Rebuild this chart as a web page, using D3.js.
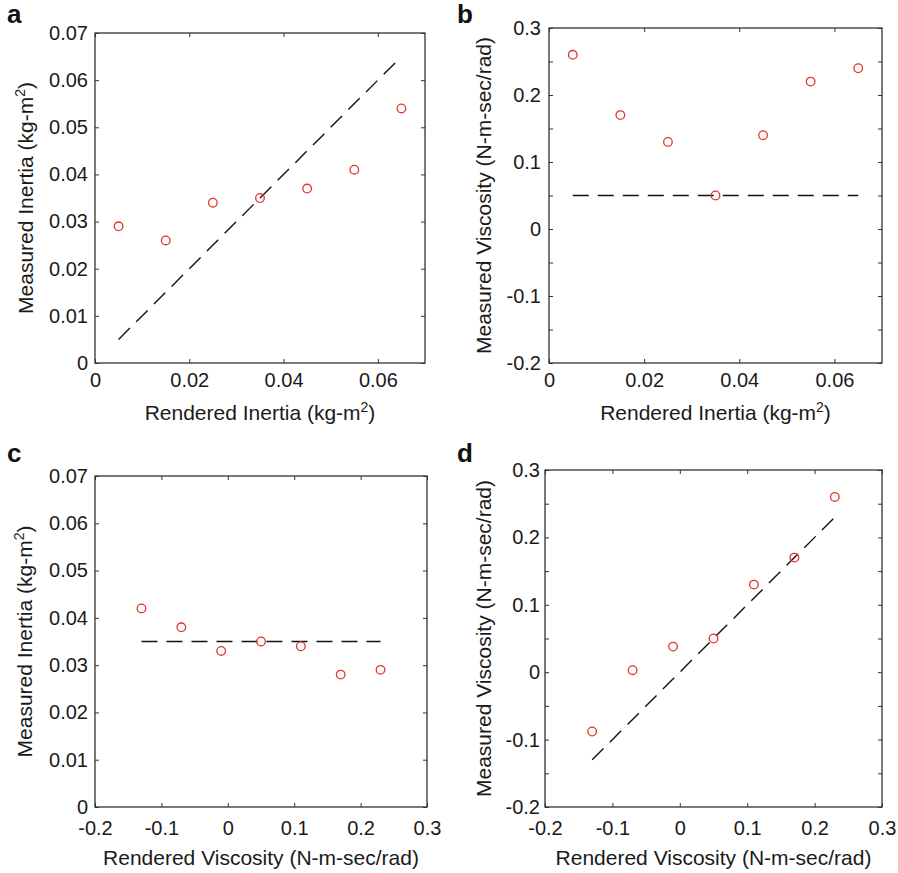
<!DOCTYPE html>
<html>
<head>
<meta charset="utf-8">
<script src="https://cdn.jsdelivr.net/npm/d3@7"></script>
<style>
  html, body { margin: 0; padding: 0; background: #fff; }
  svg { display: block; font-family: "Liberation Sans", Arial, Helvetica, sans-serif; }
</style>
</head>
<body>
<svg id="chart" width="898" height="873"></svg>
<script>
// ---- data ----
const panelLetters = ["a", "b", "c", "d"];
const renderedInertia = [0.005, 0.015, 0.025, 0.035, 0.045, 0.055, 0.065];
const renderedViscosity = [-0.13, -0.07, -0.01, 0.05, 0.11, 0.17, 0.23];
const measuredInertiaA = [0.029, 0.026, 0.034, 0.035, 0.037, 0.041, 0.054];
const measuredViscosityB = [0.26, 0.17, 0.13, 0.05, 0.14, 0.22, 0.24];
const measuredInertiaC = [0.042, 0.038, 0.033, 0.035, 0.034, 0.028, 0.029];
const measuredViscosityD = [-0.088, 0.003, 0.038, 0.05, 0.13, 0.17, 0.26];
const idealA = [[0.005, 0.005], [0.065, 0.065]];
const idealB = [[0.005, 0.05], [0.065, 0.05]];
const idealC = [[-0.13, 0.035], [0.23, 0.035]];
const idealD = [[-0.13, -0.13], [0.23, 0.23]];
const inertiaDomain = [0, 0.07];
const viscosityDomain = [-0.2, 0.3];
const inertiaXTicks = [0, 0.02, 0.04, 0.06];
const inertiaYTicks = [0, 0.01, 0.02, 0.03, 0.04, 0.05, 0.06, 0.07];
const viscosityXTicks = [-0.2, -0.1, 0, 0.1, 0.2, 0.3];
const viscosityYTicks = [-0.2, -0.15, -0.1, -0.05, 0, 0.05, 0.1, 0.15, 0.2, 0.25, 0.3];
const viscosityYLabels = [-0.2, -0.1, 0, 0.1, 0.2, 0.3];
const labelRenderedInertia = "Rendered Inertia (kg-m";
const labelMeasuredInertia = "Measured Inertia (kg-m";
const labelRenderedViscosity = "Rendered Viscosity (N-m-sec/rad)";
const labelMeasuredViscosity = "Measured Viscosity (N-m-sec/rad)";

// ---- layout ----
const panels = [
  { letter: panelLetters[0], box: [95, 33, 425, 363], xd: inertiaDomain, yd: inertiaDomain,
    xs: renderedInertia, ys: measuredInertiaA, ideal: idealA,
    xt: inertiaXTicks, yt: inertiaYTicks, ytl: inertiaYTicks,
    xl: labelRenderedInertia, xsup: true, yl: labelMeasuredInertia, ysup: true,
    letterPos: [7, 23], xlY: 420, ylX: 33, ypad: 7, xpad: 10 },
  { letter: panelLetters[1], box: [549, 28, 882, 363], xd: inertiaDomain, yd: viscosityDomain,
    xs: renderedInertia, ys: measuredViscosityB, ideal: idealB,
    xt: inertiaXTicks, yt: viscosityYTicks, ytl: viscosityYLabels,
    xl: labelRenderedInertia, xsup: true, yl: labelMeasuredViscosity, ysup: false,
    letterPos: [457, 23], xlY: 420, ylX: 491, ypad: 8, xpad: 10 },
  { letter: panelLetters[2], box: [95, 476, 427, 807], xd: viscosityDomain, yd: inertiaDomain,
    xs: renderedViscosity, ys: measuredInertiaC, ideal: idealC,
    xt: viscosityXTicks, yt: inertiaYTicks, ytl: inertiaYTicks,
    xl: labelRenderedViscosity, xsup: false, yl: labelMeasuredInertia, ysup: true,
    letterPos: [7, 462], xlY: 865, ylX: 32, ypad: 7, xpad: 14 },
  { letter: panelLetters[3], box: [545, 470, 882, 807], xd: viscosityDomain, yd: viscosityDomain,
    xs: renderedViscosity, ys: measuredViscosityD, ideal: idealD,
    xt: viscosityXTicks, yt: viscosityYTicks, ytl: viscosityYLabels,
    xl: labelRenderedViscosity, xsup: false, yl: labelMeasuredViscosity, ysup: false,
    letterPos: [457, 462], xlY: 865, ylX: 491, ypad: 5, xpad: 14 }
];

const fmt = v => (Math.abs(v) < 1e-9 ? "0" : String(+v.toFixed(2)));
const svg = d3.select("#chart");
const textColor = "#1a1a1a";
const axisColor = "#333";

function addLabel(sel, text, sup) {
  sel.append("tspan").text(text);
  if (sup) {
    sel.append("tspan").attr("font-size", 14).attr("dy", -8).text("2");
    sel.append("tspan").attr("dy", 8).text(")");
  }
}

panels.forEach(p => {
  const [x0, y0, x1, y1] = p.box;
  const x = d3.scaleLinear().domain(p.xd).range([x0, x1]);
  const y = d3.scaleLinear().domain(p.yd).range([y1, y0]);
  const g = svg.append("g");

  const labSet = new Set(p.ytl.map(fmt));
  const yFmt = v => (labSet.has(fmt(v)) ? fmt(v) : "");

  // axes with inward ticks
  const style = a => {
    a.select(".domain").remove();
    a.selectAll(".tick line").attr("stroke", axisColor).attr("stroke-width", 1);
    a.selectAll(".tick text").attr("fill", textColor).attr("font-size", 20)
      .attr("font-family", "Liberation Sans, Arial, sans-serif");
  };
  g.append("g").attr("transform", `translate(0,${y1})`)
    .call(d3.axisBottom(x).tickValues(p.xt).tickSize(-4).tickPadding(p.xpad).tickFormat(fmt)).call(style);
  g.append("g").attr("transform", `translate(0,${y0})`)
    .call(d3.axisTop(x).tickValues(p.xt).tickSize(-4).tickFormat("")).call(style);
  g.append("g").attr("transform", `translate(${x0},0)`)
    .call(d3.axisLeft(y).tickValues(p.yt).tickSize(-4).tickPadding(p.ypad).tickFormat(yFmt)).call(style);
  g.append("g").attr("transform", `translate(${x1},0)`)
    .call(d3.axisRight(y).tickValues(p.yt).tickSize(-4).tickFormat("")).call(style);

  // frame
  g.append("rect").attr("x", x0).attr("y", y0).attr("width", x1 - x0).attr("height", y1 - y0)
    .attr("fill", "none").attr("stroke", axisColor).attr("stroke-width", 1.3);

  // ideal dashed line
  g.append("path").datum(p.ideal)
    .attr("d", d3.line().x(d => x(d[0])).y(d => y(d[1])))
    .attr("fill", "none").attr("stroke", "#111").attr("stroke-width", 1.4)
    .attr("stroke-dasharray", "16,9");

  // points
  g.selectAll("circle.pt").data(p.xs.map((v, i) => [v, p.ys[i]])).enter()
    .append("circle").attr("class", "pt")
    .attr("cx", d => x(d[0])).attr("cy", d => y(d[1])).attr("r", 4.3)
    .attr("fill", "none").attr("stroke", "#e3342b").attr("stroke-width", 1.3);

  // panel letter
  g.append("text").attr("x", p.letterPos[0]).attr("y", p.letterPos[1])
    .attr("font-size", 26).attr("font-weight", "bold").attr("fill", "#111").text(p.letter);

  // x label
  const xl = g.append("text").attr("x", (x0 + x1) / 2).attr("y", p.xlY)
    .attr("text-anchor", "middle").attr("font-size", 21).attr("fill", textColor);
  addLabel(xl, p.xl, p.xsup);

  // y label
  const yl = g.append("text")
    .attr("transform", `translate(${p.ylX},${(y0 + y1) / 2}) rotate(-90)`)
    .attr("text-anchor", "middle").attr("font-size", 21).attr("fill", textColor);
  addLabel(yl, p.yl, p.ysup);
});
</script>
</body>
</html>
